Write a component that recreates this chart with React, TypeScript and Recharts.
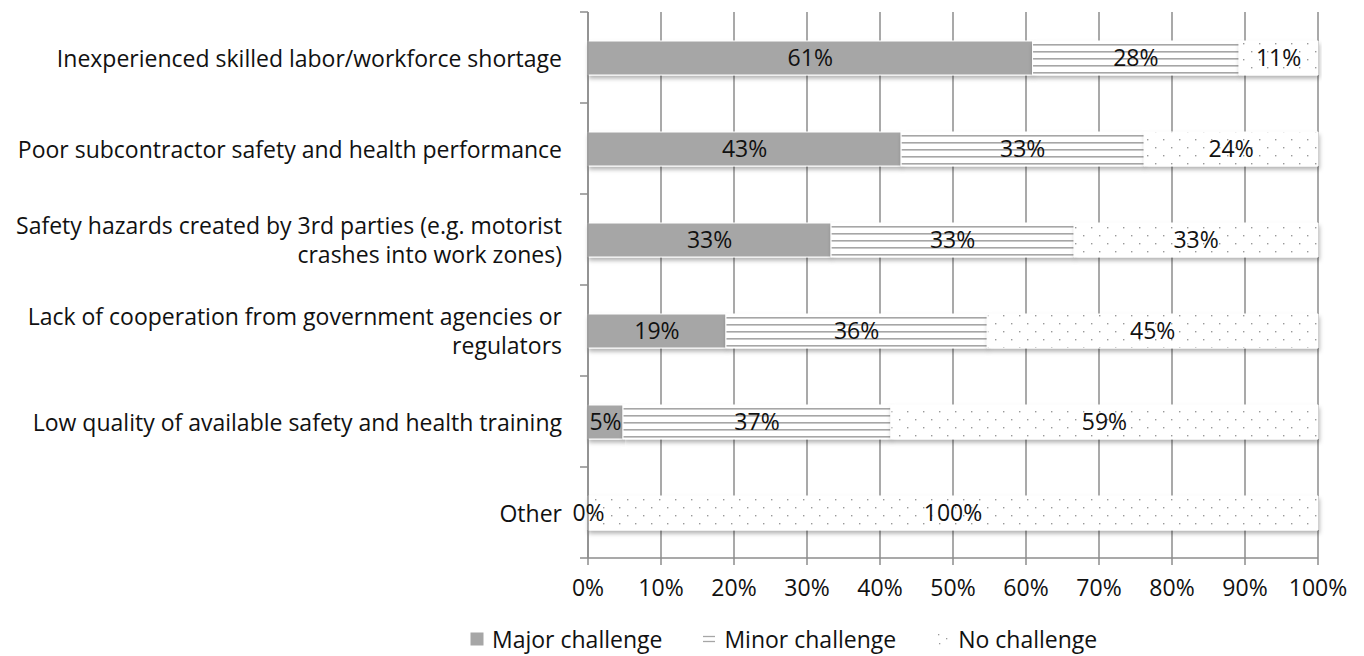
import React from 'react'
import { BarChart, Bar, XAxis, YAxis, CartesianGrid, Legend, LabelList } from 'recharts'

// Survey: how big a challenge each item is (share of respondents, %)
const categories = [
  'Inexperienced skilled labor/workforce shortage',
  'Poor subcontractor safety and health performance',
  'Safety hazards created by 3rd parties (e.g. motorist\ncrashes into work zones)',
  'Lack of cooperation from government agencies or\nregulators',
  'Low quality of available safety and health training',
  'Other',
]
const major = [60.9, 42.9, 33.3, 18.9, 4.8, 0]
const minor = [28.3, 33.3, 33.3, 35.8, 36.7, 0]
const none = [10.8, 23.8, 33.4, 45.3, 58.5, 100]
const xTicks = [0, 10, 20, 30, 40, 50, 60, 70, 80, 90, 100]

const data = categories.map((name, i) => ({ name, major: major[i], minor: minor[i], none: none[i] }))

const FONT = '"Open Sans", sans-serif'
const FS = 23
const GRID = '#8c8c8c'
const GREY = '#a6a6a6'
const INK = '#111'
const W = 1364
const H = 656
const M = { top: 12, right: 46, bottom: 22, left: 0 }
const Y_W = 588
const BAND = 91

const pct = (v: any) => `${Math.round(Number(v))}%`

// recharts hands the tick x a few px left of the axis line
function CatTick({ x, y, payload, index }: any) {
  const ax = x + 8
  const lines = String(payload.value).split('\n')
  const lh = 29
  const y0 = y - ((lines.length - 1) * lh) / 2
  return (
    <g>
      <line x1={ax - 8} x2={ax} y1={y - BAND / 2} y2={y - BAND / 2} stroke={GRID} strokeWidth={1.5} />
      {index === categories.length - 1 && (
        <line x1={ax - 8} x2={ax} y1={y + BAND / 2} y2={y + BAND / 2} stroke={GRID} strokeWidth={1.5} />
      )}
      <text x={ax - 26} y={y0} textAnchor="end" dominantBaseline="central" fontSize={FS} fill={INK} fontFamily={FONT}>
        {lines.map((l, i) => (
          <tspan key={i} x={ax - 26} dy={i === 0 ? 0 : lh}>{l}</tspan>
        ))}
      </text>
    </g>
  )
}

function LegendBox() {
  const items = [
    { key: 'major', label: 'Major challenge' },
    { key: 'minor', label: 'Minor challenge' },
    { key: 'none', label: 'No challenge' },
  ]
  return (
    <div style={{ display: 'flex', justifyContent: 'flex-start', paddingLeft: 470, gap: 40, fontFamily: FONT, fontSize: FS, color: INK, lineHeight: '26px' }}>
      {items.map(it => (
        <span key={it.key} style={{ display: 'flex', alignItems: 'center', gap: 8 }}>
          <svg width={14} height={14}>
            {it.key === 'major' && <rect x={0.5} y={0.5} width={13} height={13} fill={GREY} />}
            {it.key === 'minor' && (
              <g stroke={GREY} strokeWidth={1.3}>
                <line x1={1} x2={13} y1={4.5} y2={4.5} />
                <line x1={1} x2={13} y1={9.5} y2={9.5} />
              </g>
            )}
            {it.key === 'none' && (
              <g fill="#999">
                <rect x={2} y={2} width={1.3} height={1.3} />
                <rect x={10} y={6} width={1.3} height={1.3} />
                <rect x={3} y={11} width={1.3} height={1.3} />
              </g>
            )}
          </svg>
          {it.label}
        </span>
      ))}
    </div>
  )
}

const labelStyle = { fontSize: FS, fill: INK, fontFamily: FONT }

export default function App() {
  return (
    <div style={{ position: 'absolute', left: 0, top: 0, width: W, height: H, background: '#fff' }}>
      <BarChart width={W} height={H} data={data} layout="vertical" margin={M} barSize={34}>
        <defs>
          <pattern id="hlines" width={8} height={7} patternUnits="userSpaceOnUse">
            <rect width={8} height={7} fill="#fff" />
            <rect y={2} width={8} height={1.6} fill={GREY} />
          </pattern>
          <pattern id="dots" width={16} height={16} patternUnits="userSpaceOnUse">
            <rect width={16} height={16} fill="#fff" />
            <rect x={3} y={3} width={1.4} height={1.4} fill="#999" />
            <rect x={11} y={11} width={1.4} height={1.4} fill="#999" />
          </pattern>
          <filter id="shadow" x="-5%" y="-30%" width="110%" height="160%">
            <feDropShadow dx={1} dy={3} stdDeviation={2} floodColor="#000" floodOpacity={0.3} />
          </filter>
        </defs>
        <CartesianGrid horizontal={false} stroke={GRID} strokeWidth={1.5} />
        <XAxis
          type="number"
          domain={[0, 100]}
          ticks={xTicks}
          tickFormatter={pct}
          stroke={GRID}
          strokeWidth={1.5}
          tickSize={7}
          tick={{ fontSize: FS, fill: INK, fontFamily: FONT, dy: 13 }}
          height={50}
        />
        <YAxis
          type="category"
          dataKey="name"
          width={Y_W}
          stroke={GRID}
          strokeWidth={1.5}
          tickLine={false}
          interval={0}
          tick={<CatTick />}
        />
        <Legend verticalAlign="bottom" content={<LegendBox />} wrapperStyle={{ bottom: 4 }} />
        <Bar dataKey="major" name="Major challenge" stackId="a" fill={GREY} stroke="#fff" strokeWidth={1} minPointSize={1} filter="url(#shadow)" isAnimationActive={false}>
          <LabelList dataKey="major" position="center" formatter={pct} style={labelStyle} />
        </Bar>
        <Bar dataKey="minor" name="Minor challenge" stackId="a" fill="url(#hlines)" stroke="#fff" strokeWidth={1} filter="url(#shadow)" isAnimationActive={false}>
          <LabelList dataKey="minor" position="center" formatter={pct} style={labelStyle} />
        </Bar>
        <Bar dataKey="none" name="No challenge" stackId="a" fill="url(#dots)" stroke="#fff" strokeWidth={1} filter="url(#shadow)" isAnimationActive={false}>
          <LabelList dataKey="none" position="center" formatter={pct} style={labelStyle} />
        </Bar>
      </BarChart>
    </div>
  )
}
